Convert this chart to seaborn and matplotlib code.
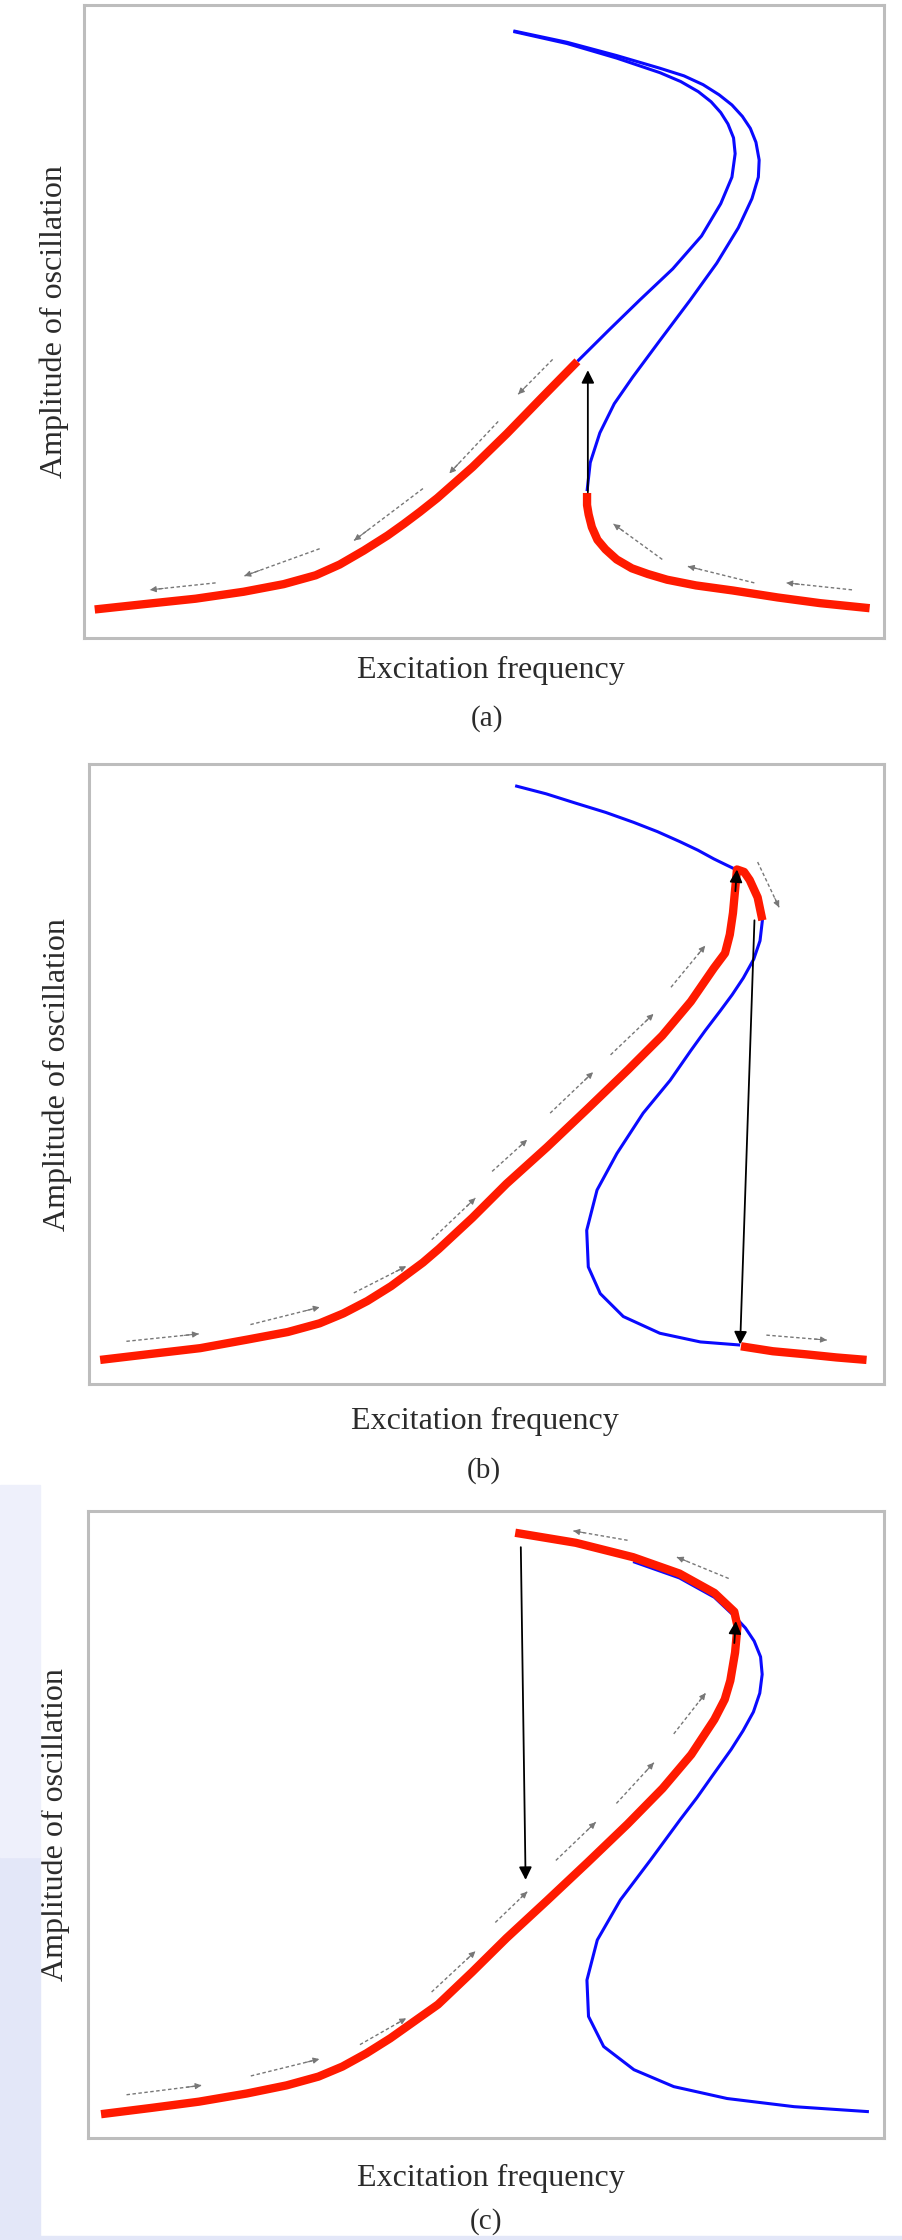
import matplotlib
matplotlib.use("Agg")
import matplotlib.pyplot as plt
import seaborn as sns
from matplotlib.patches import Rectangle

sns.set_theme(style="white")
plt.rcParams['font.family'] = ['Liberation Serif', 'DejaVu Serif']

RED = '#ff1a00'
BLUE = '#0a0aff'
GRAY = '#777777'
FRAME = '#bdbdbd'
TEXT = '#2b2b2b'

# ---------------- (a) downward frequency sweep ----------------
a_red_left_x = [1.4, 8.0, 14.0, 20.0, 25.0, 29.0, 32.0, 35.0, 38.0, 40.0, 42.0, 44.2, 48.6, 52.9, 57.2, 61.7]
a_red_left_y = [4.5, 5.4, 6.2, 7.3, 8.5, 9.9, 11.6, 13.8, 16.2, 18.0, 19.9, 22.1, 27.0, 32.3, 37.9, 43.7]
a_red_right_x = [62.9, 62.9, 63.1, 63.5, 64.2, 65.2, 66.6, 68.5, 70.5, 72.9, 76.5, 81.1, 86.7, 92.0, 98.2]
a_red_right_y = [22.9, 21.0, 19.5, 17.5, 15.5, 14.0, 12.4, 11.0, 10.1, 9.2, 8.3, 7.5, 6.4, 5.5, 4.7]
a_blue_upper_x = [61.7, 65.6, 69.5, 73.6, 77.2, 79.6, 81.0, 81.4, 81.2, 80.5, 79.6, 78.4, 76.8, 74.6,
                  72.0, 66.6, 60.4, 53.7]
a_blue_upper_y = [43.7, 48.6, 53.4, 58.3, 63.5, 68.6, 72.8, 76.5, 79.0, 81.2, 83.0, 84.7, 86.3, 87.9,
                  89.3, 91.6, 93.9, 95.8]
a_blue_mid_x = [62.9, 63.3, 64.5, 66.3, 68.6, 72.0, 75.8, 79.1, 81.8, 83.5, 84.3, 84.4, 84.0, 83.3,
                82.3, 81.0, 79.4, 77.4, 75.0, 72.0, 66.6, 60.4, 53.7]
a_blue_mid_y = [23.2, 27.7, 32.4, 37.0, 41.2, 47.0, 53.4, 59.2, 64.8, 69.4, 72.8, 75.5, 78.3, 80.5,
                82.4, 84.2, 85.8, 87.4, 88.8, 90.0, 92.0, 94.1, 95.9]
a_jump = [(63.0, 23.0), (63.0, 42.3)]
a_flow_tail = [(16.5, 8.7), (29.5, 14.1), (42.4, 23.6), (51.8, 34.2), (58.6, 44.0),
               (72.3, 12.4), (83.8, 8.7), (96.0, 7.6)]
a_flow_head = [(8.3, 7.6), (20.1, 9.8), (33.8, 15.4), (45.7, 26.0), (54.3, 38.5),
               (66.2, 18.0), (75.5, 11.3), (87.8, 8.7)]

# ---------------- (b) upward frequency sweep ----------------
b_red_up_x = [1.4, 8.0, 14.0, 20.0, 25.0, 29.0, 32.0, 35.0, 38.0, 40.0, 42.0, 44.0, 48.2, 52.5, 57.6,
              62.7, 67.8, 72.1, 75.7, 78.6, 80.0, 80.6, 81.0, 81.3, 81.5, 82.4, 83.1, 84.1, 84.7]
b_red_up_y = [3.9, 4.9, 5.8, 7.2, 8.4, 9.8, 11.4, 13.4, 15.8, 17.7, 19.6, 21.8, 26.8, 32.3, 38.2,
              44.4, 50.7, 56.2, 61.7, 67.1, 69.5, 72.5, 76.0, 80.2, 83.0, 82.6, 81.3, 78.5, 74.8]
b_red_low_x = [82.0, 86.0, 90.2, 94.0, 97.8]
b_red_low_y = [6.1, 5.3, 4.8, 4.3, 3.9]
b_blue_x = [53.6, 57.5, 61.2, 65.0, 68.5, 71.5, 74.3, 76.6, 78.6, 80.2, 81.5, 82.4, 83.1, 84.1, 84.7,
            84.4, 83.6, 82.3, 80.9, 79.4, 77.5, 75.7, 73.1, 69.7, 66.4, 63.9, 62.6, 62.8, 64.3, 67.2,
            71.8, 76.9, 81.9]
b_blue_y = [96.5, 95.2, 93.7, 92.2, 90.6, 89.1, 87.5, 86.1, 84.7, 83.7, 82.9, 82.6, 81.3, 78.5, 74.8,
            71.5, 68.5, 65.5, 62.8, 60.2, 57.0, 53.8, 49.0, 43.7, 37.2, 31.3, 24.8, 18.9, 14.6, 10.9,
            8.2, 6.8, 6.3]
b_jump = [(83.7, 74.8), (81.9, 6.4)]
b_peak = [(81.3, 79.5), (81.5, 83.0)]
b_flow_tail = [(4.7, 6.9), (20.3, 9.6), (33.3, 14.7), (43.1, 23.3), (50.7, 34.3), (58.0, 43.7),
               (65.6, 53.1), (73.2, 64.0), (84.1, 84.2), (85.2, 7.9)]
b_flow_head = [(13.8, 8.1), (29.0, 12.4), (39.9, 19.0), (48.6, 30.0), (55.1, 39.4), (63.4, 50.3),
               (71.0, 59.7), (77.5, 70.7), (86.8, 76.9), (92.8, 7.1)]

# ---------------- (c) sweep up, then back down ----------------
c_red_x = [1.7, 8.0, 14.0, 20.0, 25.0, 29.0, 32.0, 35.0, 38.0, 40.0, 42.0, 44.0, 48.3, 52.6, 57.7,
           62.8, 67.8, 72.2, 75.8, 78.7, 80.0, 80.7, 81.3, 81.6, 81.2, 78.7, 74.3, 68.5, 61.3, 53.7]
c_red_y = [3.8, 4.8, 5.8, 7.1, 8.4, 9.8, 11.4, 13.5, 15.9, 17.7, 19.5, 21.3, 26.5, 31.9, 37.9,
           44.0, 50.1, 55.8, 61.2, 66.8, 70.0, 73.0, 77.5, 81.7, 84.0, 87.0, 90.1, 92.7, 95.0, 96.6]
c_blue_x = [68.5, 74.3, 78.7, 81.2, 82.6, 83.7, 84.5, 84.7, 84.4, 83.6, 82.3, 80.8, 78.5, 76.5,
            74.4, 70.7, 66.9, 64.0, 62.7, 62.9, 64.8, 68.6, 73.6, 80.3, 88.7, 98.1]
c_blue_y = [92.0, 89.4, 86.3, 83.3, 81.4, 79.3, 76.8, 74.0, 71.0, 68.0, 65.0, 62.0, 57.9, 54.3,
            50.8, 44.4, 38.0, 31.6, 25.2, 19.4, 14.6, 10.9, 8.2, 6.3, 5.0, 4.2]
c_jump = [(54.4, 94.3), (55.0, 41.2)]
c_peak = [(81.2, 79.0), (81.4, 82.5)]
c_flow_tail = [(4.9, 6.9), (20.5, 9.9), (34.2, 14.9), (43.2, 23.3), (51.2, 34.4), (58.8, 44.3),
               (66.4, 53.4), (73.6, 64.5), (67.8, 95.4), (80.5, 89.3)]
c_flow_head = [(14.3, 8.4), (29.1, 12.6), (40.0, 19.1), (48.7, 29.8), (55.2, 39.3), (63.8, 50.4),
               (71.1, 59.9), (77.6, 71.0), (61.0, 96.9), (74.0, 92.7)]

x_label = "Excitation frequency"
y_label = "Amplitude of oscillation"
captions = ["(a)", "(b)", "(c)"]


def curve(ax, xs, ys, color, lw, z):
    sns.lineplot(x=xs, y=ys, sort=False, estimator=None, color=color, lw=lw,
                 ax=ax, zorder=z, solid_capstyle='butt', solid_joinstyle='round')


def jump(ax, seg, z=6):
    ax.annotate('', xy=seg[1], xytext=seg[0],
                arrowprops=dict(arrowstyle='-|>', color='black', lw=1.3,
                                mutation_scale=19, shrinkA=0, shrinkB=0), zorder=z)


def flows(ax, tails, heads):
    for (tx, ty), (hx, hy) in zip(tails, heads):
        ax.plot([tx, hx], [ty, hy], color=GRAY, lw=1.0, ls=(0, (2.5, 1.8)), zorder=4)
        ax.annotate('', xy=(hx, hy), xytext=(hx + 0.2 * (tx - hx), hy + 0.2 * (ty - hy)),
                    arrowprops=dict(arrowstyle='-|>', color=GRAY, lw=0.8,
                                    mutation_scale=9, shrinkA=0, shrinkB=0), zorder=4)


fig = plt.figure(figsize=(9.03, 22.40), dpi=100)

# pale page tint along the lower left edge and bottom
fig.patches.append(Rectangle((0, 0), 0.0443, 0.171, transform=fig.transFigure,
                             color='#e3e7f8', zorder=0))
fig.patches.append(Rectangle((0, 0.171), 0.0443, 0.166, transform=fig.transFigure,
                             color='#eef0fb', zorder=0))
fig.patches.append(Rectangle((0, 0), 1, 0.0018, transform=fig.transFigure,
                             color='#e3e7f8', zorder=0))

boxes = [[0.0925, 0.7152, 0.8865, 0.2826],
         [0.0986, 0.3821, 0.8804, 0.2768],
         [0.0969, 0.04554, 0.8821, 0.2797]]
xlab_pos = [(0.509, -0.052), (0.498, -0.060), (0.507, -0.064)]
cap_pos = [(0.504, -0.128), (0.497, -0.139), (0.500, -0.134)]
ylab_x = [-0.036, -0.040, -0.040]

axes = [fig.add_axes(b) for b in boxes]
for i, ax in enumerate(axes):
    ax.set_xlim(0, 100)
    ax.set_ylim(0, 100)
    ax.set_xticks([])
    ax.set_yticks([])
    ax.set_facecolor('white')
    for sp in ax.spines.values():
        sp.set_color(FRAME)
        sp.set_linewidth(2.2)
    ax.set_xlabel(x_label, fontsize=23, color=TEXT)
    ax.xaxis.set_label_coords(*xlab_pos[i])
    ax.xaxis.label.set_va('center')
    ax.set_ylabel(y_label, fontsize=23, color=TEXT)
    ax.yaxis.set_label_coords(ylab_x[i], 0.5)
    ax.yaxis.label.set_va('center')
    ax.text(cap_pos[i][0], cap_pos[i][1], captions[i], transform=ax.transAxes,
            ha='center', va='center', fontsize=21, color=TEXT)

RED_LW = 6.0
BLUE_LW = 2.2

# (a)
ax = axes[0]
curve(ax, a_blue_upper_x, a_blue_upper_y, BLUE, BLUE_LW, 2)
curve(ax, a_blue_mid_x, a_blue_mid_y, BLUE, BLUE_LW, 2)
curve(ax, a_red_left_x, a_red_left_y, RED, RED_LW, 3)
curve(ax, a_red_right_x, a_red_right_y, RED, RED_LW, 3)
jump(ax, a_jump)
flows(ax, a_flow_tail, a_flow_head)

# (b)
ax = axes[1]
curve(ax, b_blue_x, b_blue_y, BLUE, BLUE_LW, 2)
curve(ax, b_red_up_x, b_red_up_y, RED, RED_LW, 3)
curve(ax, b_red_low_x, b_red_low_y, RED, RED_LW, 3)
jump(ax, b_jump)
jump(ax, b_peak)
flows(ax, b_flow_tail, b_flow_head)

# (c)
ax = axes[2]
curve(ax, c_blue_x, c_blue_y, BLUE, BLUE_LW, 2)
curve(ax, c_red_x, c_red_y, RED, RED_LW, 3)
jump(ax, c_jump)
jump(ax, c_peak)
flows(ax, c_flow_tail, c_flow_head)

fig.savefig("out.png", dpi=100, facecolor='white')
